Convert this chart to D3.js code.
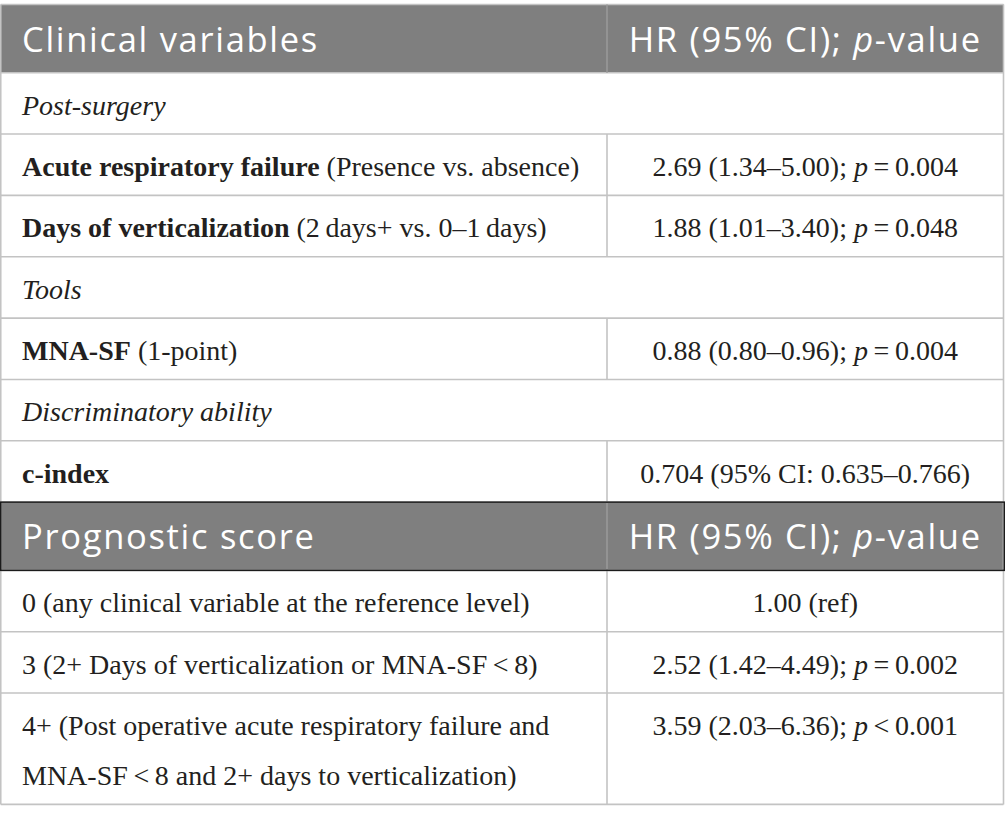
<!DOCTYPE html>
<html><head><meta charset="utf-8">
<script src="https://cdn.jsdelivr.net/npm/d3@7"></script>
<style>html,body{margin:0;padding:0;background:#fff;} svg{display:block} text{white-space:pre}</style>
</head><body>
<svg id="chart" width="1005" height="823"></svg>
<script>
// ---------- data ----------
const tableTitles = ["Clinical variables", "Prognostic score"];
const valueHeader = ["HR (95% CI); ", "p", "-value"];
const groupLabels = ["Post-surgery", "Tools", "Discriminatory ability"];
const variableNames = ["Acute respiratory failure", "Days of verticalization", "MNA-SF"];
const variableContrasts = [" (Presence vs. absence)", " (2\u2009days+ vs. 0\u20131\u2009days)", " (1-point)"];
const variableGroup = [0, 0, 1];
const hrEstimate = [2.69, 1.88, 0.88];
const hrLower = [1.34, 1.01, 0.80];
const hrUpper = [5.00, 3.40, 0.96];
const pValues = [0.004, 0.048, 0.004];
const cIndexName = "c-index";
const cIndexValues = [0.704, 0.635, 0.766];
const scoreLabels = [
  ["0 (any clinical variable at the reference level)"],
  ["3 (2+ Days of verticalization or MNA-SF\u2009<\u20098)"],
  ["4+ (Post operative acute respiratory failure and", "MNA-SF\u2009<\u20098 and 2+ days to verticalization)"]
];
const scoreHR = [1.00, 2.52, 3.59];
const scoreLower = [null, 1.42, 2.03];
const scoreUpper = [null, 4.49, 6.36];
const scoreP = [null, 0.002, 0.001];
const scorePRelation = [null, "=", "<"];

// ---------- build rows ----------
const f2 = d3.format(".2f"), f3 = d3.format(".3f");
const headerRight = [{t: valueHeader[0]}, {t: valueHeader[1], i: true}, {t: valueHeader[2]}];
const hrSegs = (est, lo, hi, rel, p) => lo == null
  ? [{t: `${f2(est)} (ref)`}]
  : [{t: `${f2(est)} (${f2(lo)}\u2013${f2(hi)}); `}, {t: "p", i: true}, {t: `\u2009${rel}\u2009${f3(p)}`}];

const rows = [];
rows.push({kind: "header", left: [[{t: tableTitles[0]}]], right: headerRight});
groupLabels.forEach((g, gi) => {
  rows.push({kind: "group", left: [[{t: g, i: true}]], right: null});
  variableNames.forEach((v, vi) => {
    if (variableGroup[vi] !== gi) return;
    rows.push({kind: "row", left: [[{t: v, b: true}, {t: variableContrasts[vi]}]],
      right: hrSegs(hrEstimate[vi], hrLower[vi], hrUpper[vi], "=", pValues[vi])});
  });
  if (gi === 2) rows.push({kind: "row", left: [[{t: cIndexName, b: true}]],
      right: [{t: `${f3(cIndexValues[0])} (95% CI: ${f3(cIndexValues[1])}\u2013${f3(cIndexValues[2])})`}]});
});
rows.push({kind: "header2", left: [[{t: tableTitles[1]}]], right: headerRight});
scoreLabels.forEach((lines, si) => {
  rows.push({kind: "row", left: lines.map(l => [{t: l}]),
    right: hrSegs(scoreHR[si], scoreLower[si], scoreUpper[si], scorePRelation[si], scoreP[si])});
});

// ---------- layout ----------
const x0 = 0.75, x1 = 1003.5, xDiv = 607, padL = 22;
const headerH = 68.2, rowH = 61.35, lineH = 50.0, topY = 4.5;
let yy = topY;
rows.forEach(r => {
  r.isHeader = (r.kind === "header" || r.kind === "header2");
  r.y = yy;
  r.h = r.isHeader ? headerH : rowH + (r.left.length - 1) * lineH;
  yy += r.h;
});
const bottomY = yy;
const xc = (xDiv + x1) / 2;

const svg = d3.select("#chart");
svg.append("rect").attr("width", 1005).attr("height", 823).attr("fill", "#fff");

// header backgrounds
svg.selectAll("rect.hdr").data(rows.filter(r => r.isHeader)).join("rect")
  .attr("class", "hdr").attr("x", x0).attr("y", d => d.y).attr("width", x1 - x0).attr("height", d => d.h)
  .attr("fill", "#7f7f7f");

// horizontal lines
const bounds = rows.map(r => r.y).concat([bottomY]);
svg.selectAll("line.h").data(bounds).join("line").attr("class", "h")
  .attr("x1", x0).attr("x2", x1).attr("y1", d => d).attr("y2", d => d)
  .attr("stroke", "#c3c3c3").attr("stroke-width", 1.6);
// outer vertical lines
svg.selectAll("line.v").data([x0, x1]).join("line").attr("class", "v")
  .attr("x1", d => d).attr("x2", d => d).attr("y1", topY).attr("y2", bottomY)
  .attr("stroke", "#c3c3c3").attr("stroke-width", 1.6);
// column divider
svg.selectAll("line.div").data(rows.filter(r => r.kind !== "group")).join("line").attr("class", "div")
  .attr("x1", xDiv).attr("x2", xDiv).attr("y1", d => d.y).attr("y2", d => d.y + d.h)
  .attr("stroke", d => d.isHeader ? "#999" : "#c3c3c3").attr("stroke-width", 1.6);
// second header dark frame
svg.selectAll("rect.frame").data(rows.filter(r => r.kind === "header2")).join("rect").attr("class", "frame")
  .attr("x", 0.75).attr("y", d => d.y).attr("width", 1003.5).attr("height", d => d.h)
  .attr("fill", "none").attr("stroke", "#1b1b1b").attr("stroke-width", 1.5);

function addText(x, y, segs, anchor, header) {
  const t = svg.append("text").attr("x", x).attr("y", y).attr("text-anchor", anchor)
    .attr("font-family", header ? "'Open Sans', sans-serif" : "'Liberation Serif', 'Times New Roman', serif")
    .attr("font-size", header ? 34.5 : 28)
    .attr("letter-spacing", header ? 1.7 : 0)
    .attr("fill", header ? "#fff" : "#231f20");
  segs.forEach(s => t.append("tspan").text(s.t)
    .attr("font-weight", s.b ? 700 : null).attr("font-style", s.i ? "italic" : null));
}

rows.forEach(r => {
  const base = r.isHeader ? 47.3 : 41.8;
  r.left.forEach((line, li) => addText(padL, r.y + base + li * lineH, line, "start", r.isHeader));
  if (r.right) addText(xc, r.y + base, r.right, "middle", r.isHeader);
});
</script>
</body></html>
